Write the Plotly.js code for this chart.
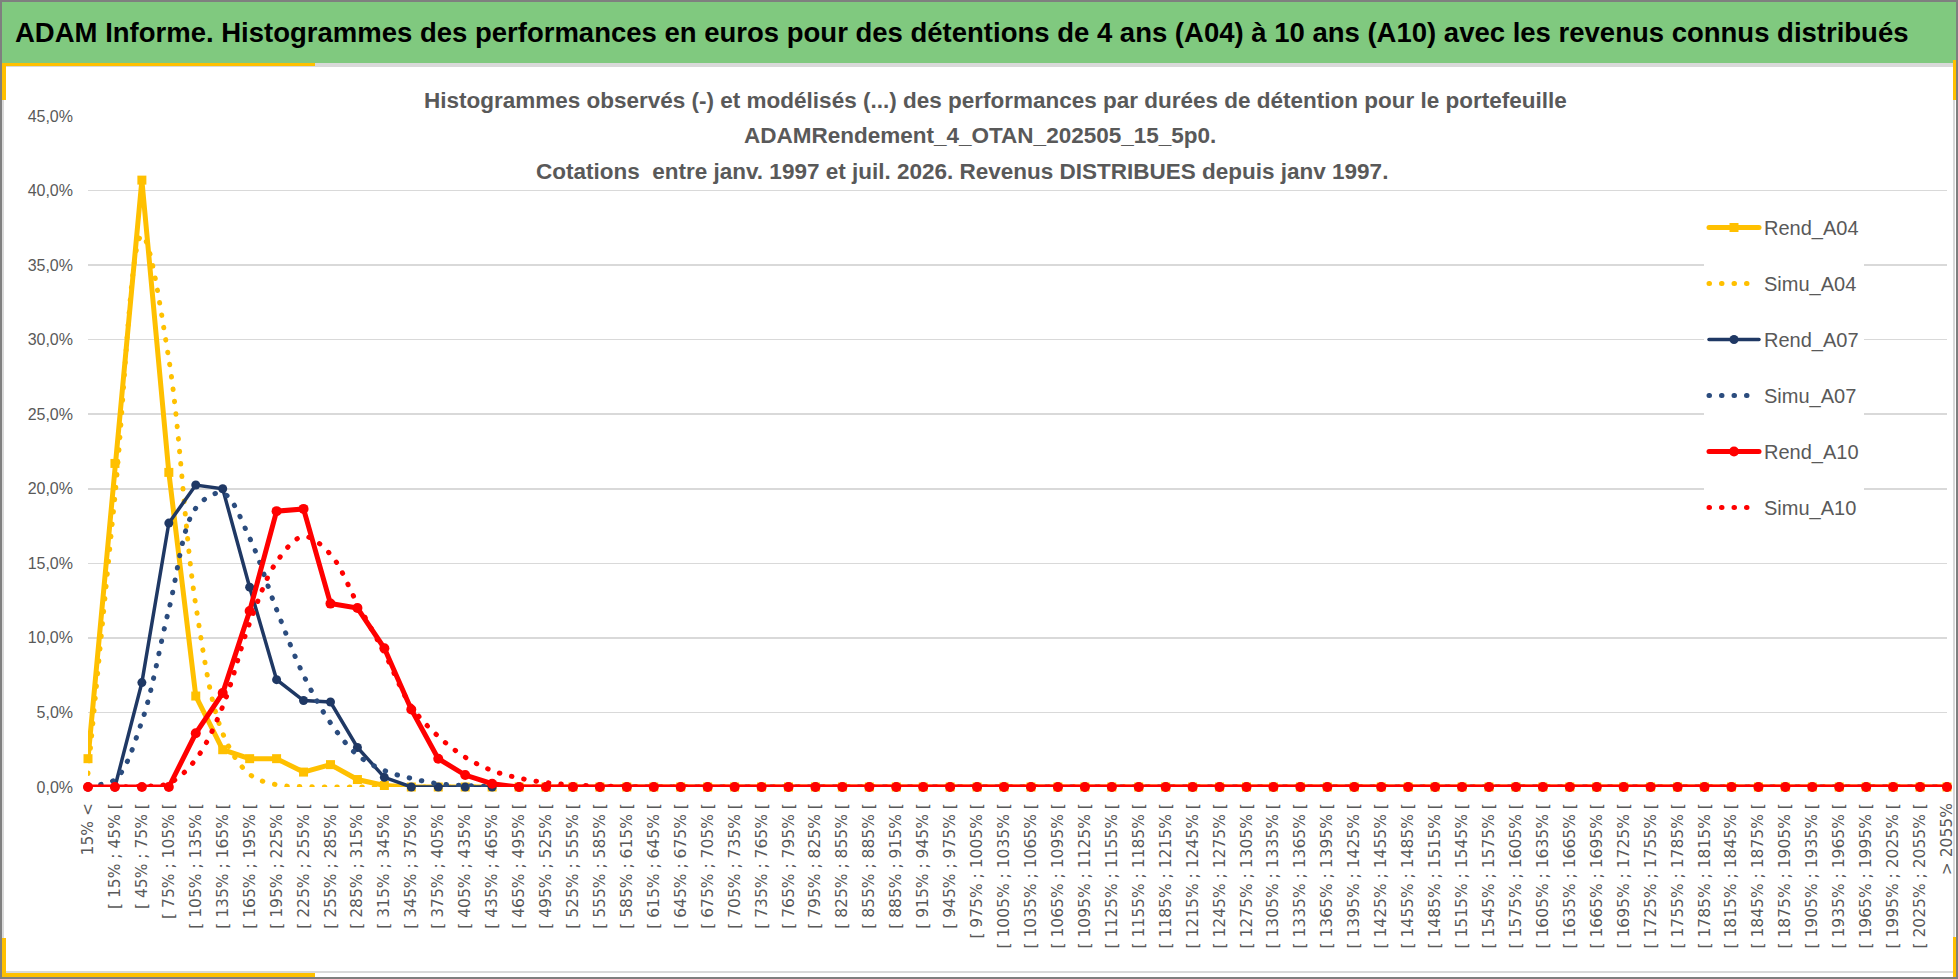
<!DOCTYPE html>
<html>
<head>
<meta charset="utf-8">
<script src="https://cdn.plot.ly/plotly-3.0.1.min.js"></script>
<style>
  html, body { margin: 0; padding: 0; background: #fff; }
  #myChart { width: 1958px; height: 979px; }
  .js-line, .legendlines path { stroke-linecap: round; }
</style>
</head>
<body>
<div id="myChart"></div>
<script>
// tick labels, one per performance class
var classes = [
  "15% <",
  "[ 15% ; 45% [", "[ 45% ; 75% [", "[ 75% ; 105% [", "[ 105% ; 135% [", "[ 135% ; 165% [",
  "[ 165% ; 195% [", "[ 195% ; 225% [", "[ 225% ; 255% [", "[ 255% ; 285% [", "[ 285% ; 315% [",
  "[ 315% ; 345% [", "[ 345% ; 375% [", "[ 375% ; 405% [", "[ 405% ; 435% [", "[ 435% ; 465% [",
  "[ 465% ; 495% [", "[ 495% ; 525% [", "[ 525% ; 555% [", "[ 555% ; 585% [", "[ 585% ; 615% [",
  "[ 615% ; 645% [", "[ 645% ; 675% [", "[ 675% ; 705% [", "[ 705% ; 735% [", "[ 735% ; 765% [",
  "[ 765% ; 795% [", "[ 795% ; 825% [", "[ 825% ; 855% [", "[ 855% ; 885% [", "[ 885% ; 915% [",
  "[ 915% ; 945% [", "[ 945% ; 975% [", "[ 975% ; 1005% [", "[ 1005% ; 1035% [", "[ 1035% ; 1065% [",
  "[ 1065% ; 1095% [", "[ 1095% ; 1125% [", "[ 1125% ; 1155% [", "[ 1155% ; 1185% [", "[ 1185% ; 1215% [",
  "[ 1215% ; 1245% [", "[ 1245% ; 1275% [", "[ 1275% ; 1305% [", "[ 1305% ; 1335% [", "[ 1335% ; 1365% [",
  "[ 1365% ; 1395% [", "[ 1395% ; 1425% [", "[ 1425% ; 1455% [", "[ 1455% ; 1485% [", "[ 1485% ; 1515% [",
  "[ 1515% ; 1545% [", "[ 1545% ; 1575% [", "[ 1575% ; 1605% [", "[ 1605% ; 1635% [", "[ 1635% ; 1665% [",
  "[ 1665% ; 1695% [", "[ 1695% ; 1725% [", "[ 1725% ; 1755% [", "[ 1755% ; 1785% [", "[ 1785% ; 1815% [",
  "[ 1815% ; 1845% [", "[ 1845% ; 1875% [", "[ 1875% ; 1905% [", "[ 1905% ; 1935% [", "[ 1935% ; 1965% [",
  "[ 1965% ; 1995% [", "[ 1995% ; 2025% [", "[ 2025% ; 2055% [",
  "> 2055%"
]

// frequencies in %
var rend_A04 = [1.9, 21.7, 40.7, 21.1, 6.1, 2.5, 1.9, 1.9, 1.0, 1.5, 0.5, 0.1, 0, 0, 0,
  0, 0, 0, 0, 0, 0, 0, 0, 0, 0, 0, 0, 0, 0, 0, 0, 0, 0, 0, 0,
  0, 0, 0, 0, 0, 0, 0, 0, 0, 0, 0, 0, 0, 0, 0, 0, 0, 0, 0, 0,
  0, 0, 0, 0, 0, 0, 0, 0, 0, 0, 0, 0, 0, 0, 0]
var simu_A04 = [0.9, 19.5, 37.0, 28.7, 12.2, 3.6, 0.85, 0.15, 0.03, 0, 0, 0, 0, 0, 0,
  0, 0, 0, 0, 0, 0, 0, 0, 0, 0, 0, 0, 0, 0, 0, 0, 0, 0, 0, 0,
  0, 0, 0, 0, 0, 0, 0, 0, 0, 0, 0, 0, 0, 0, 0, 0, 0, 0, 0, 0,
  0, 0, 0, 0, 0, 0, 0, 0, 0, 0, 0, 0, 0, 0, 0]
var rend_A07 = [0, 0, 7.0, 17.7, 20.25, 20.0, 13.4, 7.2, 5.8, 5.7, 2.65, 0.65, 0, 0, 0,
  0, 0, 0, 0, 0, 0, 0, 0, 0, 0, 0, 0, 0, 0, 0, 0, 0, 0, 0, 0,
  0, 0, 0, 0, 0, 0, 0, 0, 0, 0, 0, 0, 0, 0, 0, 0, 0, 0, 0, 0,
  0, 0, 0, 0, 0, 0, 0, 0, 0, 0, 0, 0, 0, 0, 0]
var simu_A07 = [0.15, 0.5, 4.4, 11.9, 18.7, 19.7, 16.7, 11.9, 7.5, 4.3, 2.15, 1.1, 0.58, 0.22, 0.1,
  0.04, 0, 0, 0, 0, 0, 0, 0, 0, 0, 0, 0, 0, 0, 0, 0, 0, 0, 0, 0,
  0, 0, 0, 0, 0, 0, 0, 0, 0, 0, 0, 0, 0, 0, 0, 0, 0, 0, 0, 0,
  0, 0, 0, 0, 0, 0, 0, 0, 0, 0, 0, 0, 0, 0, 0]
var rend_A10 = [0, 0, 0, 0, 3.6, 6.3, 11.8, 18.5, 18.65, 12.3, 12.0, 9.3, 5.2, 1.9, 0.8,
  0.22, 0, 0, 0, 0, 0, 0, 0, 0, 0, 0, 0, 0, 0, 0, 0, 0, 0, 0, 0,
  0, 0, 0, 0, 0, 0, 0, 0, 0, 0, 0, 0, 0, 0, 0, 0, 0, 0, 0, 0,
  0, 0, 0, 0, 0, 0, 0, 0, 0, 0, 0, 0, 0, 0, 0]
var simu_A10 = [0, 0, 0.05, 0.25, 1.85, 5.4, 11.0, 15.1, 16.8, 15.6, 12.3, 9.0, 5.4, 3.4, 2.0,
  1.1, 0.6, 0.3, 0.15, 0.07, 0.03, 0, 0, 0, 0, 0, 0, 0, 0, 0, 0, 0, 0, 0, 0,
  0, 0, 0, 0, 0, 0, 0, 0, 0, 0, 0, 0, 0, 0, 0, 0, 0, 0, 0, 0,
  0, 0, 0, 0, 0, 0, 0, 0, 0, 0, 0, 0, 0, 0, 0]

var series_names = ["Rend_A04", "Simu_A04", "Rend_A07", "Simu_A07", "Rend_A10", "Simu_A10"]
var series_data = [rend_A04, simu_A04, rend_A07, simu_A07, rend_A10, simu_A10]

var header_text = "ADAM Informe. Histogrammes des performances en euros pour des détentions de 4 ans (A04) à 10 ans (A10) avec les revenus connus distribués"
var chart_title = [
  "Histogrammes observés (-) et modélisés (...) des performances par durées de détention pour le portefeuille",
  "ADAMRendement_4_OTAN_202505_15_5p0.",
  "Cotations  entre janv. 1997 et juil. 2026. Revenus DISTRIBUES depuis janv 1997."
]

var SANS = '"Liberation Sans Narrow", "Arial Narrow", "Liberation Sans", sans-serif'
var GREY = '#595959'

// page geometry (pixels) -> paper coords
var W = 1958, H = 979
var L = 88, R = 11, T = 116, B = 192
var pw = W - L - R, ph = H - T - B
function px(x) { return (x - L) / pw }
function py(y) { return (H - B - y) / ph }

var idx = classes.map(function (c, i) { return i })

var DOTS = '0.5px,12px'
var styles = [
  {mode: 'lines+markers', line: {color: '#FFC000', width: 5}, marker: {symbol: 'square', size: 9, color: '#FFC000'}},
  {mode: 'lines', line: {color: '#FFC000', width: 5, dash: DOTS, shape: 'spline', smoothing: 1}},
  {mode: 'lines+markers', line: {color: '#1F3864', width: 3.5}, marker: {symbol: 'circle', size: 9, color: '#1F3864'}},
  {mode: 'lines', line: {color: '#2B4C7E', width: 5, dash: DOTS, shape: 'spline', smoothing: 1}},
  {mode: 'lines+markers', line: {color: '#FF0000', width: 5}, marker: {symbol: 'circle', size: 10, color: '#FF0000'}},
  {mode: 'lines', line: {color: '#FF0000', width: 5, dash: DOTS, shape: 'spline', smoothing: 1}}
]

var data = []
for (let i = 0; i < series_names.length; i++) {
  var trace = {
    x: idx,
    y: series_data[i],
    name: series_names[i],
    legendgroup: series_names[i],
    type: 'scatter',
    mode: styles[i].mode,
    line: styles[i].line,
    cliponaxis: false,
    hoverinfo: 'skip'
  }
  if (styles[i].marker) trace.marker = styles[i].marker
  data.push(trace)
}

function rect(x0, y0, x1, y1, fill, layer) {
  return {type: 'rect', xref: 'paper', yref: 'paper',
    x0: px(x0), x1: px(x1), y0: py(y1), y1: py(y0),
    fillcolor: fill, line: {width: 0}, layer: layer || 'below'}
}

var shapes = [
  rect(0, 0, W, 63, '#80C97F'),
  rect(0, 63, W, 66, '#D9D9D9'),
  {type: 'rect', xref: 'paper', yref: 'paper', x0: px(3), x1: px(W - 4), y0: py(972), y1: py(66),
    line: {color: '#D9D9D9', width: 2}, layer: 'below'},
  // yellow corner marks
  rect(0, 63, 315, 66, '#FFC000'),
  rect(0, 63, 6, 100, '#FFC000'),
  rect(0, 938, 6, 978, '#FFC000'),
  rect(0, 973, 315, 978, '#FFC000'),
  rect(W - 5, 60, W, 100, '#FFC000'),
  rect(W - 5, 937, W, 977, '#FFC000'),
  // title and legend boxes hide the grid behind them
  rect(312, 70, 1548, 188, '#FFFFFF', 'between'),
  rect(1656, 200, 1909, 540, '#FFFFFF', 'between'),
  {type: 'rect', xref: 'paper', yref: 'paper', x0: px(1), x1: px(W - 1), y0: py(H - 1), y1: py(1),
    line: {color: '#7F7F7F', width: 2}, layer: 'above'}
]

var title_x = [995, 980, 962]
var title_y = [100, 135, 171]
var annotations = chart_title.map(function (t, i) {
  return {text: t, xref: 'paper', yref: 'paper', x: px(title_x[i]), y: py(title_y[i]),
    xanchor: 'center', yanchor: 'middle', showarrow: false,
    font: {family: SANS, size: 22.5, color: GREY, weight: 'bold'}}
})

var layout = {
  width: W,
  height: H,
  paper_bgcolor: '#FFFFFF',
  plot_bgcolor: '#FFFFFF',
  separators: ', ',
  margin: {l: L, r: R, t: T, b: B, autoexpand: false},
  title: {
    text: header_text,
    xref: 'container', yref: 'container',
    x: 15 / W, xanchor: 'left',
    y: 1 - 32 / H, yanchor: 'middle',
    font: {family: SANS, size: 27.5, color: '#000000', weight: 'bold'}
  },
  xaxis: {
    range: [0, classes.length - 1],
    tickmode: 'array',
    tickvals: idx,
    ticktext: classes,
    tickangle: -90,
    tickfont: {family: 'DejaVu Sans', size: 15.5, color: GREY},
    ticks: '',
    ticklabelstandoff: 12,
    showgrid: false,
    zeroline: false,
    showline: false,
    automargin: false,
    fixedrange: true
  },
  xaxis2: {
    overlaying: 'x',
    anchor: 'y',
    range: [0, classes.length - 1],
    tickmode: 'linear', tick0: 0, dtick: 2,
    showticklabels: false,
    ticks: '',
    showgrid: true,
    gridcolor: '#D9D9D9',
    gridwidth: 1.5,
    zeroline: false,
    showline: false,
    fixedrange: true
  },
  yaxis: {
    range: [0, 45],
    dtick: 5,
    tickformat: '.1f',
    ticksuffix: '%',
    tickfont: {family: SANS, size: 16, color: GREY},
    ticks: '',
    ticklabelstandoff: 14,
    gridcolor: '#D9D9D9',
    gridwidth: 1.5,
    zeroline: false,
    showline: false,
    automargin: false,
    fixedrange: true
  },
  legend: {
    x: px(1704), y: py(208),
    xanchor: 'left', yanchor: 'top',
    bgcolor: '#FFFFFF',
    borderwidth: 0,
    traceorder: 'grouped',
    tracegroupgap: 27,
    itemwidth: 50,
    font: {family: SANS, size: 20, color: GREY}
  },
  showlegend: true,
  hovermode: false,
  shapes: shapes,
  annotations: annotations
}

Plotly.newPlot('myChart', data, layout, {displayModeBar: false, staticPlot: true})
</script>
</body>
</html>
